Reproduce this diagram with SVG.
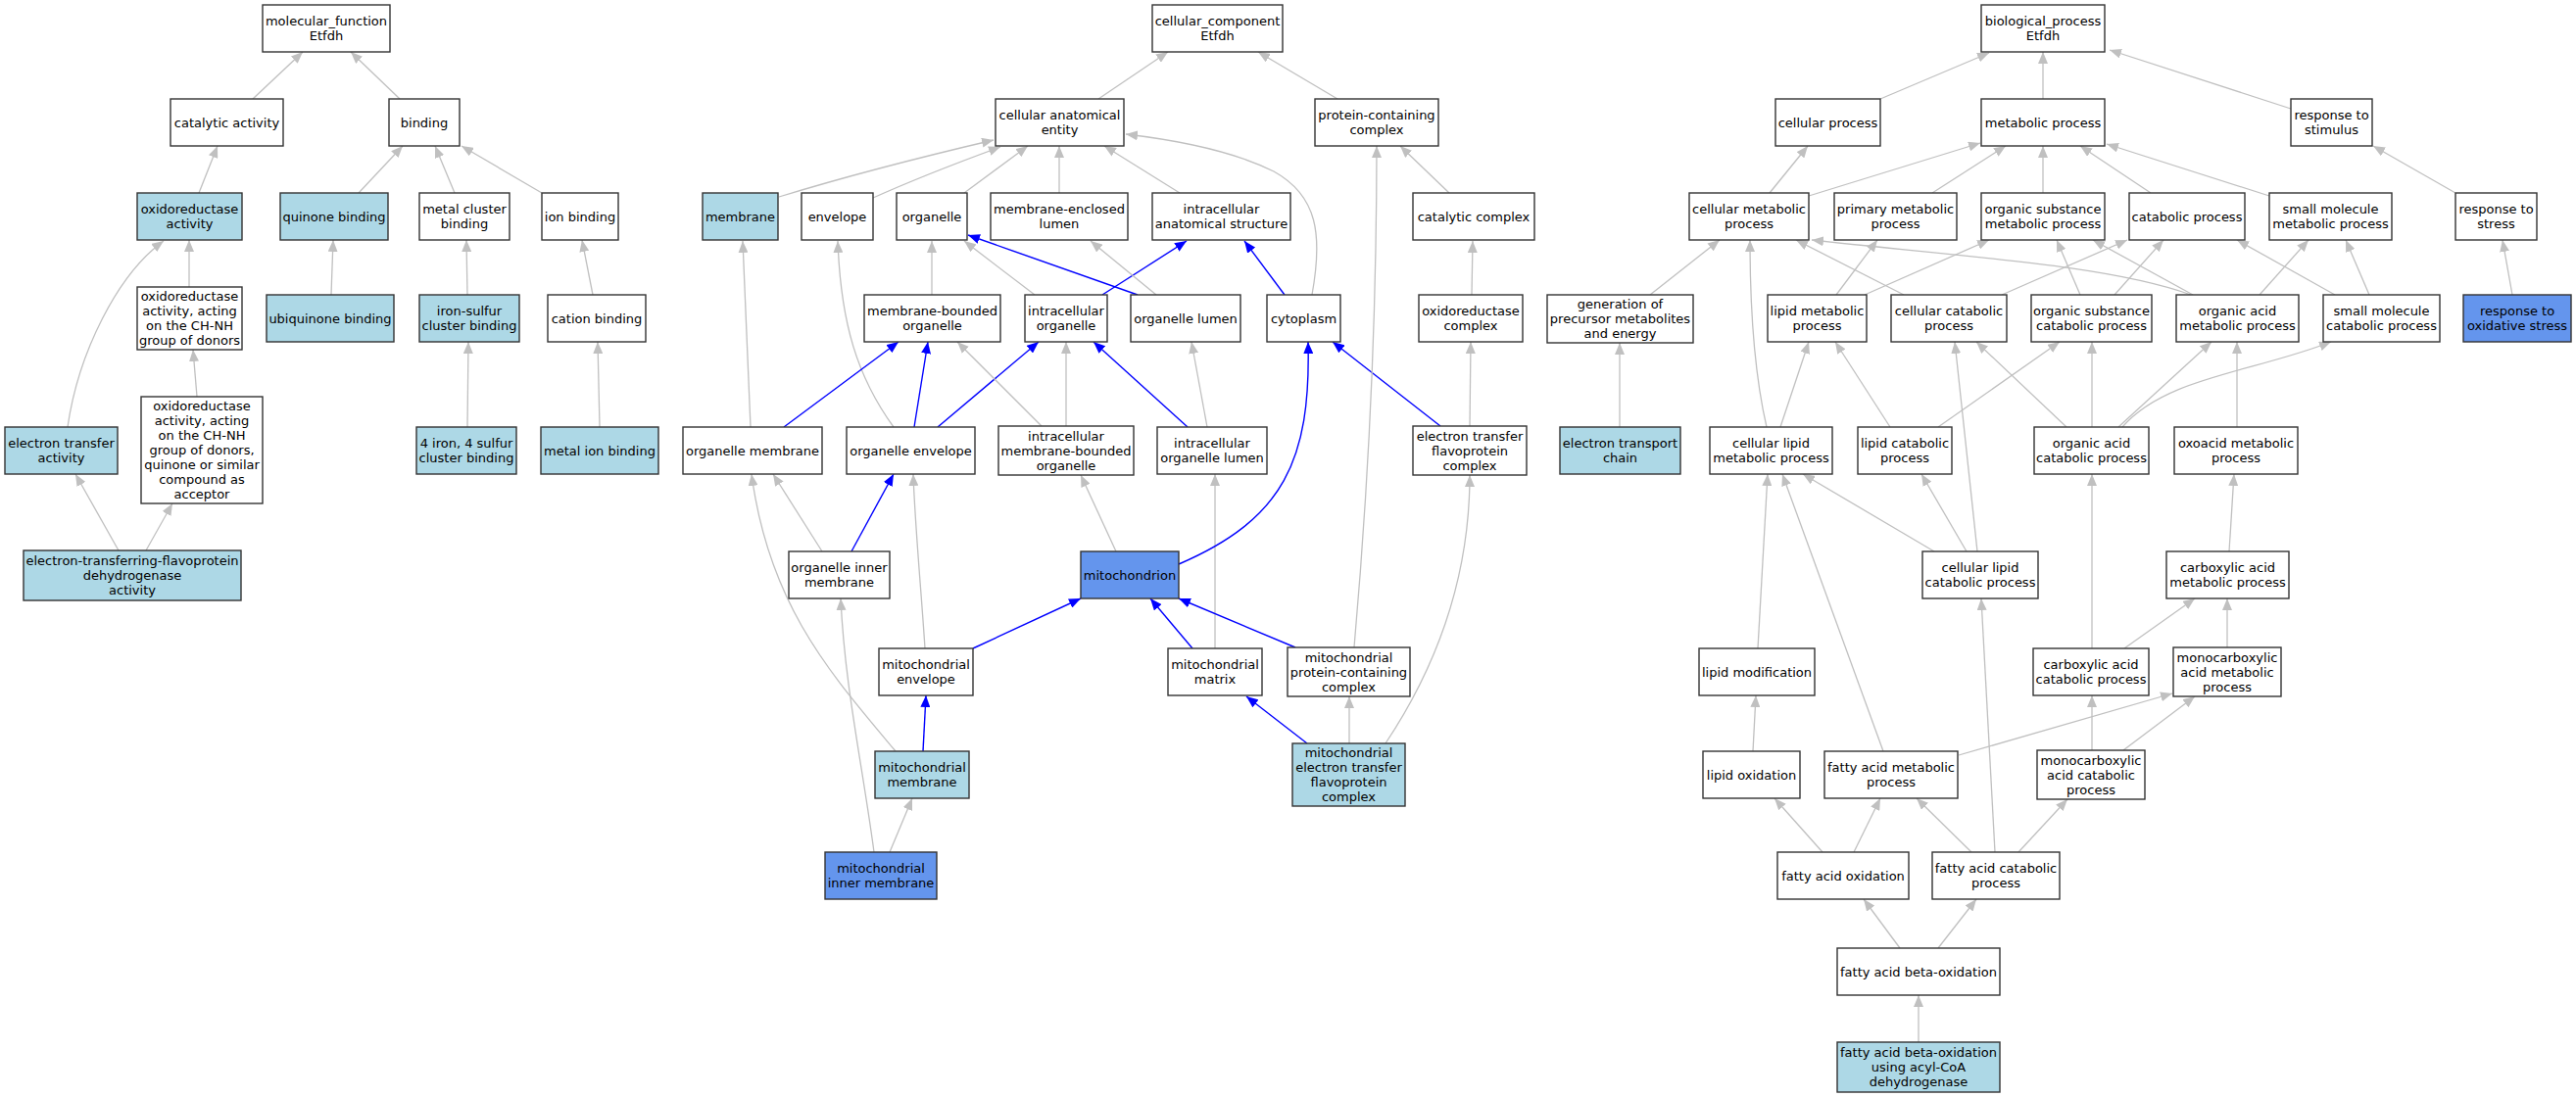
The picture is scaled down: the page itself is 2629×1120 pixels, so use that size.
<svg xmlns="http://www.w3.org/2000/svg" width="2629" height="1120" viewBox="0 0 2629 1120">
<style>
.n rect{stroke:#333;stroke-width:1.4}
.w rect{fill:#fff}
.b rect{fill:#add8e6}
.c rect{fill:#6495ed}
text{font-family:"DejaVu Sans","Liberation Sans",sans-serif;font-size:13px;text-anchor:middle;fill:#000}
.g{stroke:#c0c0c0;stroke-width:1.3;fill:none;marker-end:url(#ag)}
.u{stroke:#0000ff;stroke-width:1.4;fill:none;marker-end:url(#ab)}
</style>
<defs>
<marker id="ag" viewBox="0 0 12 10" refX="12" refY="5" markerWidth="12" markerHeight="10" markerUnits="userSpaceOnUse" orient="auto"><path d="M0,0L12,5L0,10z" fill="#c0c0c0"/></marker>
<marker id="ab" viewBox="0 0 12 10" refX="12" refY="5" markerWidth="12" markerHeight="10" markerUnits="userSpaceOnUse" orient="auto"><path d="M0,0L12,5L0,10z" fill="#0000ff"/></marker>
</defs>
<rect width="2629" height="1120" fill="#fff"/>
<g id="edges">
<path class="g" d="M258,101L309,53"/>
<path class="g" d="M408,101L358,53"/>
<path class="g" d="M203,197L222,149"/>
<path class="g" d="M366,197L411,149"/>
<path class="g" d="M464,197L444,149"/>
<path class="g" d="M553,197L471,149"/>
<path class="g" d="M193,293L193,245"/>
<path class="g" d="M69,436C80,360 120,280 167,246"/>
<path class="g" d="M338,301L340,245"/>
<path class="g" d="M477,301L476,245"/>
<path class="g" d="M605,301L594,245"/>
<path class="g" d="M201,405L197,357"/>
<path class="g" d="M477,436L478,349"/>
<path class="g" d="M612,436L610,349"/>
<path class="g" d="M121,562L77,484"/>
<path class="g" d="M149,562L176,514"/>
<path class="g" d="M1121,101L1192,53"/>
<path class="g" d="M1365,101L1284,53"/>
<path class="g" d="M795,201C880,175 950,158 1014,143"/>
<path class="g" d="M891,202C940,180 980,165 1021,150"/>
<path class="g" d="M984,197L1049,149"/>
<path class="g" d="M1081,197L1081,149"/>
<path class="g" d="M1204,197L1127,149"/>
<path class="g" d="M1339,301C1350,240 1345,200 1300,175C1260,155 1200,143 1149,137"/>
<path class="g" d="M951,301L951,246"/>
<path class="g" d="M1056,301L984,246"/>
<path class="u" d="M1161,301L988,240"/>
<path class="u" d="M1125,301L1211,246"/>
<path class="g" d="M1180,301L1113,246"/>
<path class="u" d="M1311,301L1270,246"/>
<path class="g" d="M1479,197L1429,149"/>
<path class="g" d="M1502,301L1503,246"/>
<path class="g" d="M766,436L758,246"/>
<path class="g" d="M912,436C875,385 858,330 855,246"/>
<path class="u" d="M800,436L917,349"/>
<path class="u" d="M933,436L947,349"/>
<path class="u" d="M957,436L1060,349"/>
<path class="g" d="M1063,435L977,349"/>
<path class="g" d="M1088,435L1088,349"/>
<path class="u" d="M1212,436L1116,349"/>
<path class="g" d="M1232,436L1216,349"/>
<path class="g" d="M1500,435L1501,349"/>
<path class="u" d="M1470,435L1360,349"/>
<path class="g" d="M839,563L789,484"/>
<path class="u" d="M869,563L912,484"/>
<path class="g" d="M914,767C850,690 785,620 767,484"/>
<path class="g" d="M944,662C940,600 934,540 932,484"/>
<path class="g" d="M1139,563L1103,485"/>
<path class="g" d="M1240,662L1240,484"/>
<path class="u" d="M1203,576C1310,530 1338,470 1335,349"/>
<path class="g" d="M1382,661C1398,480 1405,300 1405,149"/>
<path class="g" d="M1414,759C1460,690 1500,600 1500,485"/>
<path class="u" d="M1334,759L1272,711"/>
<path class="g" d="M1377,759L1377,711"/>
<path class="u" d="M993,662L1103,611"/>
<path class="u" d="M1217,662L1174,611"/>
<path class="u" d="M1322,661L1203,611"/>
<path class="u" d="M942,767L945,710"/>
<path class="g" d="M908,870L931,815"/>
<path class="g" d="M892,870C880,780 862,700 858,611"/>
<path class="g" d="M1919,101L2030,54"/>
<path class="g" d="M2085,101L2085,53"/>
<path class="g" d="M2338,111L2153,51"/>
<path class="g" d="M1806,197L1845,149"/>
<path class="g" d="M1846,200L2021,146"/>
<path class="g" d="M1972,197L2047,149"/>
<path class="g" d="M2085,197L2085,149"/>
<path class="g" d="M2195,197L2123,149"/>
<path class="g" d="M2316,200L2150,147"/>
<path class="g" d="M2506,197L2422,149"/>
<path class="g" d="M2564,301L2554,245"/>
<path class="g" d="M1684,301L1755,245"/>
<path class="g" d="M1653,436L1653,350"/>
<path class="g" d="M1874,301L1916,245"/>
<path class="g" d="M1903,301L2030,245"/>
<path class="g" d="M1943,301L1833,245"/>
<path class="g" d="M2236,301C2150,270 2000,262 1849,245"/>
<path class="g" d="M1803,436C1790,380 1786,310 1786,245"/>
<path class="g" d="M1817,436L1846,349"/>
<path class="g" d="M1929,436L1873,349"/>
<path class="g" d="M1978,436L2102,349"/>
<path class="g" d="M2043,301L2171,245"/>
<path class="g" d="M2123,301L2099,245"/>
<path class="g" d="M2158,301L2208,245"/>
<path class="g" d="M2238,301L2136,245"/>
<path class="g" d="M2306,301L2356,245"/>
<path class="g" d="M2383,301L2283,245"/>
<path class="g" d="M2418,301L2394,245"/>
<path class="g" d="M2135,436L2135,349"/>
<path class="g" d="M2109,436L2017,349"/>
<path class="g" d="M2162,436L2257,349"/>
<path class="g" d="M2166,436C2210,385 2300,380 2379,349"/>
<path class="g" d="M2283,436L2283,349"/>
<path class="g" d="M2018,563L1995,349"/>
<path class="g" d="M2007,563L1961,484"/>
<path class="g" d="M1974,563L1840,484"/>
<path class="g" d="M2135,662L2135,484"/>
<path class="g" d="M2275,563L2280,484"/>
<path class="g" d="M2168,662L2240,611"/>
<path class="g" d="M2273,661L2273,611"/>
<path class="g" d="M1794,662L1804,484"/>
<path class="g" d="M1922,767L1819,484"/>
<path class="g" d="M1789,767L1792,710"/>
<path class="g" d="M1999,771L2217,708"/>
<path class="g" d="M2135,766L2135,710"/>
<path class="g" d="M2167,766L2240,711"/>
<path class="g" d="M1860,870L1811,815"/>
<path class="g" d="M1892,870L1919,815"/>
<path class="g" d="M2012,870L1956,815"/>
<path class="g" d="M2036,870L2022,611"/>
<path class="g" d="M2060,870L2110,816"/>
<path class="g" d="M1939,968L1902,918"/>
<path class="g" d="M1978,968L2017,918"/>
<path class="g" d="M1958,1064L1958,1016"/>
</g>
<g id="mf" class="n w"><rect x="268" y="5" width="130" height="48"/><text x="333" y="26.2"><tspan x="333">molecular_function</tspan><tspan x="333" dy="15">Etfdh</tspan></text></g>
<g id="catalytic_activity" class="n w"><rect x="174" y="101" width="115" height="48"/><text x="231.5" y="129.7">catalytic activity</text></g>
<g id="binding" class="n w"><rect x="397" y="101" width="72" height="48"/><text x="433" y="129.7">binding</text></g>
<g id="oxidoreductase_activity" class="n b"><rect x="140" y="197" width="107" height="48"/><text x="193.5" y="218.2"><tspan x="193.5">oxidoreductase</tspan><tspan x="193.5" dy="15">activity</tspan></text></g>
<g id="quinone_binding" class="n b"><rect x="286" y="197" width="110" height="48"/><text x="341" y="225.7">quinone binding</text></g>
<g id="metal_cluster_binding" class="n w"><rect x="428" y="197" width="92" height="48"/><text x="474" y="218.2"><tspan x="474">metal cluster</tspan><tspan x="474" dy="15">binding</tspan></text></g>
<g id="ion_binding" class="n w"><rect x="553" y="197" width="78" height="48"/><text x="592" y="225.7">ion binding</text></g>
<g id="chnh" class="n w"><rect x="140" y="293" width="107" height="64"/><text x="193.5" y="307.2"><tspan x="193.5">oxidoreductase</tspan><tspan x="193.5" dy="15">activity, acting</tspan><tspan x="193.5" dy="15">on the CH-NH</tspan><tspan x="193.5" dy="15">group of donors</tspan></text></g>
<g id="ubiquinone_binding" class="n b"><rect x="272" y="301" width="130" height="48"/><text x="337" y="329.7">ubiquinone binding</text></g>
<g id="iron_sulfur" class="n b"><rect x="428" y="301" width="102" height="48"/><text x="479" y="322.2"><tspan x="479">iron-sulfur</tspan><tspan x="479" dy="15">cluster binding</tspan></text></g>
<g id="cation_binding" class="n w"><rect x="559" y="301" width="100" height="48"/><text x="609" y="329.7">cation binding</text></g>
<g id="electron_transfer_activity" class="n b"><rect x="5" y="436" width="115" height="48"/><text x="62.5" y="457.2"><tspan x="62.5">electron transfer</tspan><tspan x="62.5" dy="15">activity</tspan></text></g>
<g id="quinone_acceptor" class="n w"><rect x="144" y="405" width="124" height="109"/><text x="206" y="419.2"><tspan x="206">oxidoreductase</tspan><tspan x="206" dy="15">activity, acting</tspan><tspan x="206" dy="15">on the CH-NH</tspan><tspan x="206" dy="15">group of donors,</tspan><tspan x="206" dy="15">quinone or similar</tspan><tspan x="206" dy="15">compound as</tspan><tspan x="206" dy="15">acceptor</tspan></text></g>
<g id="fe4s4" class="n b"><rect x="425" y="436" width="102" height="48"/><text x="476" y="457.2"><tspan x="476">4 iron, 4 sulfur</tspan><tspan x="476" dy="15">cluster binding</tspan></text></g>
<g id="metal_ion_binding" class="n b"><rect x="552" y="436" width="120" height="48"/><text x="612" y="464.7">metal ion binding</text></g>
<g id="etfdh_activity" class="n b"><rect x="24" y="562" width="222" height="51"/><text x="135" y="577.2"><tspan x="135">electron-transferring-flavoprotein</tspan><tspan x="135" dy="15">dehydrogenase</tspan><tspan x="135" dy="15">activity</tspan></text></g>
<g id="cc" class="n w"><rect x="1176" y="5" width="133" height="48"/><text x="1242.5" y="26.2"><tspan x="1242.5">cellular_component</tspan><tspan x="1242.5" dy="15">Etfdh</tspan></text></g>
<g id="cae" class="n w"><rect x="1016" y="101" width="131" height="48"/><text x="1081.5" y="122.2"><tspan x="1081.5">cellular anatomical</tspan><tspan x="1081.5" dy="15">entity</tspan></text></g>
<g id="pcc" class="n w"><rect x="1342" y="101" width="126" height="48"/><text x="1405" y="122.2"><tspan x="1405">protein-containing</tspan><tspan x="1405" dy="15">complex</tspan></text></g>
<g id="membrane" class="n b"><rect x="717" y="197" width="77" height="48"/><text x="755.5" y="225.7">membrane</text></g>
<g id="envelope" class="n w"><rect x="818" y="197" width="73" height="48"/><text x="854.5" y="225.7">envelope</text></g>
<g id="organelle" class="n w"><rect x="915" y="197" width="72" height="48"/><text x="951" y="225.7">organelle</text></g>
<g id="mel" class="n w"><rect x="1011" y="197" width="140" height="48"/><text x="1081" y="218.2"><tspan x="1081">membrane-enclosed</tspan><tspan x="1081" dy="15">lumen</tspan></text></g>
<g id="ias" class="n w"><rect x="1176" y="197" width="141" height="48"/><text x="1246.5" y="218.2"><tspan x="1246.5">intracellular</tspan><tspan x="1246.5" dy="15">anatomical structure</tspan></text></g>
<g id="catalytic_complex" class="n w"><rect x="1442" y="197" width="124" height="48"/><text x="1504" y="225.7">catalytic complex</text></g>
<g id="mbo" class="n w"><rect x="882" y="301" width="139" height="48"/><text x="951.5" y="322.2"><tspan x="951.5">membrane-bounded</tspan><tspan x="951.5" dy="15">organelle</tspan></text></g>
<g id="io" class="n w"><rect x="1046" y="301" width="84" height="48"/><text x="1088" y="322.2"><tspan x="1088">intracellular</tspan><tspan x="1088" dy="15">organelle</tspan></text></g>
<g id="ol" class="n w"><rect x="1154" y="301" width="112" height="48"/><text x="1210" y="329.7">organelle lumen</text></g>
<g id="cytoplasm" class="n w"><rect x="1293" y="301" width="75" height="48"/><text x="1330.5" y="329.7">cytoplasm</text></g>
<g id="oxidoreductase_complex" class="n w"><rect x="1448" y="301" width="106" height="48"/><text x="1501" y="322.2"><tspan x="1501">oxidoreductase</tspan><tspan x="1501" dy="15">complex</tspan></text></g>
<g id="om" class="n w"><rect x="697" y="436" width="142" height="48"/><text x="768" y="464.7">organelle membrane</text></g>
<g id="oe" class="n w"><rect x="864" y="436" width="131" height="48"/><text x="929.5" y="464.7">organelle envelope</text></g>
<g id="imbo" class="n w"><rect x="1019" y="435" width="138" height="50"/><text x="1088" y="449.7"><tspan x="1088">intracellular</tspan><tspan x="1088" dy="15">membrane-bounded</tspan><tspan x="1088" dy="15">organelle</tspan></text></g>
<g id="iol" class="n w"><rect x="1181" y="436" width="112" height="48"/><text x="1237" y="457.2"><tspan x="1237">intracellular</tspan><tspan x="1237" dy="15">organelle lumen</tspan></text></g>
<g id="etfc" class="n w"><rect x="1442" y="435" width="116" height="50"/><text x="1500" y="449.7"><tspan x="1500">electron transfer</tspan><tspan x="1500" dy="15">flavoprotein</tspan><tspan x="1500" dy="15">complex</tspan></text></g>
<g id="oim" class="n w"><rect x="805" y="563" width="103" height="48"/><text x="856.5" y="584.2"><tspan x="856.5">organelle inner</tspan><tspan x="856.5" dy="15">membrane</tspan></text></g>
<g id="mitochondrion" class="n c"><rect x="1103" y="563" width="100" height="48"/><text x="1153" y="591.7">mitochondrion</text></g>
<g id="menv" class="n w"><rect x="897" y="662" width="96" height="48"/><text x="945" y="683.2"><tspan x="945">mitochondrial</tspan><tspan x="945" dy="15">envelope</tspan></text></g>
<g id="mmat" class="n w"><rect x="1192" y="662" width="96" height="48"/><text x="1240" y="683.2"><tspan x="1240">mitochondrial</tspan><tspan x="1240" dy="15">matrix</tspan></text></g>
<g id="mpcc" class="n w"><rect x="1314" y="661" width="125" height="50"/><text x="1376.5" y="675.7"><tspan x="1376.5">mitochondrial</tspan><tspan x="1376.5" dy="15">protein-containing</tspan><tspan x="1376.5" dy="15">complex</tspan></text></g>
<g id="mmem" class="n b"><rect x="893" y="767" width="96" height="48"/><text x="941" y="788.2"><tspan x="941">mitochondrial</tspan><tspan x="941" dy="15">membrane</tspan></text></g>
<g id="metfpc" class="n b"><rect x="1319" y="759" width="115" height="64"/><text x="1376.5" y="773.2"><tspan x="1376.5">mitochondrial</tspan><tspan x="1376.5" dy="15">electron transfer</tspan><tspan x="1376.5" dy="15">flavoprotein</tspan><tspan x="1376.5" dy="15">complex</tspan></text></g>
<g id="mim" class="n c"><rect x="842" y="870" width="114" height="48"/><text x="899" y="891.2"><tspan x="899">mitochondrial</tspan><tspan x="899" dy="15">inner membrane</tspan></text></g>
<g id="bp" class="n w"><rect x="2022" y="5" width="126" height="48"/><text x="2085" y="26.2"><tspan x="2085">biological_process</tspan><tspan x="2085" dy="15">Etfdh</tspan></text></g>
<g id="cellular_process" class="n w"><rect x="1812" y="101" width="107" height="48"/><text x="1865.5" y="129.7">cellular process</text></g>
<g id="metabolic_process" class="n w"><rect x="2022" y="101" width="126" height="48"/><text x="2085" y="129.7">metabolic process</text></g>
<g id="response_to_stimulus" class="n w"><rect x="2338" y="101" width="83" height="48"/><text x="2379.5" y="122.2"><tspan x="2379.5">response to</tspan><tspan x="2379.5" dy="15">stimulus</tspan></text></g>
<g id="cmp" class="n w"><rect x="1724" y="197" width="122" height="48"/><text x="1785" y="218.2"><tspan x="1785">cellular metabolic</tspan><tspan x="1785" dy="15">process</tspan></text></g>
<g id="pmp" class="n w"><rect x="1872" y="197" width="125" height="48"/><text x="1934.5" y="218.2"><tspan x="1934.5">primary metabolic</tspan><tspan x="1934.5" dy="15">process</tspan></text></g>
<g id="osmp" class="n w"><rect x="2022" y="197" width="126" height="48"/><text x="2085" y="218.2"><tspan x="2085">organic substance</tspan><tspan x="2085" dy="15">metabolic process</tspan></text></g>
<g id="catabolic_process" class="n w"><rect x="2173" y="197" width="118" height="48"/><text x="2232" y="225.7">catabolic process</text></g>
<g id="smmp" class="n w"><rect x="2316" y="197" width="125" height="48"/><text x="2378.5" y="218.2"><tspan x="2378.5">small molecule</tspan><tspan x="2378.5" dy="15">metabolic process</tspan></text></g>
<g id="response_to_stress" class="n w"><rect x="2506" y="197" width="83" height="48"/><text x="2547.5" y="218.2"><tspan x="2547.5">response to</tspan><tspan x="2547.5" dy="15">stress</tspan></text></g>
<g id="gpme" class="n w"><rect x="1579" y="301" width="149" height="49"/><text x="1653.5" y="315.2"><tspan x="1653.5">generation of</tspan><tspan x="1653.5" dy="15">precursor metabolites</tspan><tspan x="1653.5" dy="15">and energy</tspan></text></g>
<g id="lmp" class="n w"><rect x="1804" y="301" width="101" height="48"/><text x="1854.5" y="322.2"><tspan x="1854.5">lipid metabolic</tspan><tspan x="1854.5" dy="15">process</tspan></text></g>
<g id="ccp" class="n w"><rect x="1930" y="301" width="118" height="48"/><text x="1989" y="322.2"><tspan x="1989">cellular catabolic</tspan><tspan x="1989" dy="15">process</tspan></text></g>
<g id="oscp" class="n w"><rect x="2073" y="301" width="123" height="48"/><text x="2134.5" y="322.2"><tspan x="2134.5">organic substance</tspan><tspan x="2134.5" dy="15">catabolic process</tspan></text></g>
<g id="oamp" class="n w"><rect x="2221" y="301" width="125" height="48"/><text x="2283.5" y="322.2"><tspan x="2283.5">organic acid</tspan><tspan x="2283.5" dy="15">metabolic process</tspan></text></g>
<g id="smcp" class="n w"><rect x="2371" y="301" width="119" height="48"/><text x="2430.5" y="322.2"><tspan x="2430.5">small molecule</tspan><tspan x="2430.5" dy="15">catabolic process</tspan></text></g>
<g id="rox" class="n c"><rect x="2514" y="301" width="110" height="48"/><text x="2569" y="322.2"><tspan x="2569">response to</tspan><tspan x="2569" dy="15">oxidative stress</tspan></text></g>
<g id="etc" class="n b"><rect x="1592" y="436" width="123" height="48"/><text x="1653.5" y="457.2"><tspan x="1653.5">electron transport</tspan><tspan x="1653.5" dy="15">chain</tspan></text></g>
<g id="clmp" class="n w"><rect x="1745" y="436" width="125" height="48"/><text x="1807.5" y="457.2"><tspan x="1807.5">cellular lipid</tspan><tspan x="1807.5" dy="15">metabolic process</tspan></text></g>
<g id="lcp" class="n w"><rect x="1896" y="436" width="96" height="48"/><text x="1944" y="457.2"><tspan x="1944">lipid catabolic</tspan><tspan x="1944" dy="15">process</tspan></text></g>
<g id="oacp" class="n w"><rect x="2076" y="436" width="117" height="48"/><text x="2134.5" y="457.2"><tspan x="2134.5">organic acid</tspan><tspan x="2134.5" dy="15">catabolic process</tspan></text></g>
<g id="oxmp" class="n w"><rect x="2219" y="436" width="126" height="48"/><text x="2282" y="457.2"><tspan x="2282">oxoacid metabolic</tspan><tspan x="2282" dy="15">process</tspan></text></g>
<g id="clcp" class="n w"><rect x="1962" y="563" width="118" height="48"/><text x="2021" y="584.2"><tspan x="2021">cellular lipid</tspan><tspan x="2021" dy="15">catabolic process</tspan></text></g>
<g id="camp" class="n w"><rect x="2211" y="563" width="125" height="48"/><text x="2273.5" y="584.2"><tspan x="2273.5">carboxylic acid</tspan><tspan x="2273.5" dy="15">metabolic process</tspan></text></g>
<g id="lmod" class="n w"><rect x="1734" y="662" width="118" height="48"/><text x="1793" y="690.7">lipid modification</text></g>
<g id="cacp" class="n w"><rect x="2075" y="662" width="118" height="48"/><text x="2134" y="683.2"><tspan x="2134">carboxylic acid</tspan><tspan x="2134" dy="15">catabolic process</tspan></text></g>
<g id="mcamp" class="n w"><rect x="2218" y="661" width="110" height="50"/><text x="2273" y="675.7"><tspan x="2273">monocarboxylic</tspan><tspan x="2273" dy="15">acid metabolic</tspan><tspan x="2273" dy="15">process</tspan></text></g>
<g id="lox" class="n w"><rect x="1738" y="767" width="99" height="48"/><text x="1787.5" y="795.7">lipid oxidation</text></g>
<g id="famp" class="n w"><rect x="1862" y="767" width="136" height="48"/><text x="1930" y="788.2"><tspan x="1930">fatty acid metabolic</tspan><tspan x="1930" dy="15">process</tspan></text></g>
<g id="mcacp" class="n w"><rect x="2079" y="766" width="110" height="50"/><text x="2134" y="780.7"><tspan x="2134">monocarboxylic</tspan><tspan x="2134" dy="15">acid catabolic</tspan><tspan x="2134" dy="15">process</tspan></text></g>
<g id="fao" class="n w"><rect x="1814" y="870" width="134" height="48"/><text x="1881" y="898.7">fatty acid oxidation</text></g>
<g id="facp" class="n w"><rect x="1972" y="870" width="130" height="48"/><text x="2037" y="891.2"><tspan x="2037">fatty acid catabolic</tspan><tspan x="2037" dy="15">process</tspan></text></g>
<g id="fabo" class="n w"><rect x="1875" y="968" width="166" height="48"/><text x="1958" y="996.7">fatty acid beta-oxidation</text></g>
<g id="fabo_acyl" class="n b"><rect x="1875" y="1064" width="166" height="51"/><text x="1958" y="1079.2"><tspan x="1958">fatty acid beta-oxidation</tspan><tspan x="1958" dy="15">using acyl-CoA</tspan><tspan x="1958" dy="15">dehydrogenase</tspan></text></g>
</svg>
